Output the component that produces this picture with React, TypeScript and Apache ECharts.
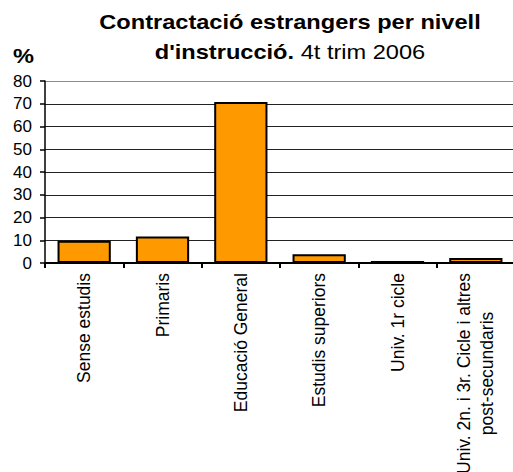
import React, { useEffect, useRef } from "react";
import * as echarts from "echarts";

const categories = [
  "Sense estudis",
  "Primaris",
  "Educació General",
  "Estudis superiors",
  "Univ. 1r cicle",
  "Univ. 2n. i 3r. Cicle i altres\npost-secundaris",
];
const values = [9.8, 11.7, 70.8, 3.8, 0.9, 2.2];
const yTicks = { min: 0, max: 80, interval: 10 };
const titleLine1 = "Contractació estrangers per nivell";
const titleLine2Bold = "d'instrucció.";
const titleLine2Normal = " 4t trim 2006";
const unitLabel = "%";

const FONT = "'Liberation Sans', Arial, sans-serif";

export default function App() {
  const ref = useRef<HTMLDivElement>(null);
  useEffect(() => {
    if (!ref.current) return;
    const chart = echarts.init(ref.current, null, { renderer: "svg" });
    const gridColors = ["#222", "#222", "#222", "#222", "#222", "#222", "#222", "#222", "#8a8a8a"];
    chart.setOption({
      animation: false,
      backgroundColor: "#fff",
      textStyle: { fontFamily: FONT },
      grid: {
        left: 45,
        right: -2,
        top: 81,
        bottom: 209,
        containLabel: false,
        outerBoundsMode: "none",
      },
      graphic: [
        {
          type: "text",
          x: 290,
          y: 22,
          scaleX: 1.18,
          style: {
            text: titleLine1,
            font: `bold 20px ${FONT}`,
            fill: "#000",
            textAlign: "center",
            textVerticalAlign: "middle",
          },
        },
        {
          type: "text",
          x: 290,
          y: 52,
          scaleX: 1.18,
          style: {
            text: `{b|${titleLine2Bold}}{n|${titleLine2Normal}}`,
            textAlign: "center",
            textVerticalAlign: "middle",
            fill: "#000",
            rich: {
              b: { fontFamily: FONT, fontSize: 20, fontWeight: "bold", fill: "#000" },
              n: { fontFamily: FONT, fontSize: 20, fontWeight: "normal", fill: "#000" },
            },
          },
        },
        {
          type: "text",
          x: 13,
          y: 56,
          scaleX: 1.18,
          style: {
            text: unitLabel,
            font: `bold 20px ${FONT}`,
            fill: "#000",
            textAlign: "left",
            textVerticalAlign: "middle",
          },
        },
      ],
      xAxis: {
        type: "category",
        data: categories,
        boundaryGap: true,
        axisLine: { show: true, lineStyle: { color: "#000", width: 2 } },
        axisTick: { show: true, inside: false, length: 5, lineStyle: { color: "#000", width: 2 } },
        axisLabel: {
          rotate: 90,
          interval: 0,
          margin: 10,
          fontSize: 17.5,
          color: "#000",
          fontFamily: FONT,
          formatter: (v: string) =>
            v.includes("\n") ? v.split("\n").map((l) => `{c|${l}}`).join("\n") : v,
          rich: {
            c: { align: "center", fontSize: 17.5, lineHeight: 23, fontFamily: FONT, color: "#000" },
          },
        },
        splitLine: { show: false },
      },
      yAxis: {
        type: "value",
        min: yTicks.min,
        max: yTicks.max,
        interval: yTicks.interval,
        axisLine: { show: true, lineStyle: { color: "#000", width: 1.5 } },
        axisTick: { show: true, inside: false, length: 5, lineStyle: { color: "#000", width: 1.5 } },
        axisLabel: { margin: 13, fontSize: 17, color: "#000", fontFamily: FONT },
        splitLine: { show: true, lineStyle: { color: gridColors, width: 1 } },
      },
      series: [
        {
          type: "bar",
          data: values,
          barCategoryGap: "32%",
          itemStyle: { color: "#FF9900", borderColor: "#000", borderWidth: 2 },
        },
      ],
    });
    return () => chart.dispose();
  }, []);
  return (
    <div
      ref={ref}
      style={{ position: "fixed", left: 0, top: 0, width: 513, height: 472, background: "#fff" }}
    />
  );
}
